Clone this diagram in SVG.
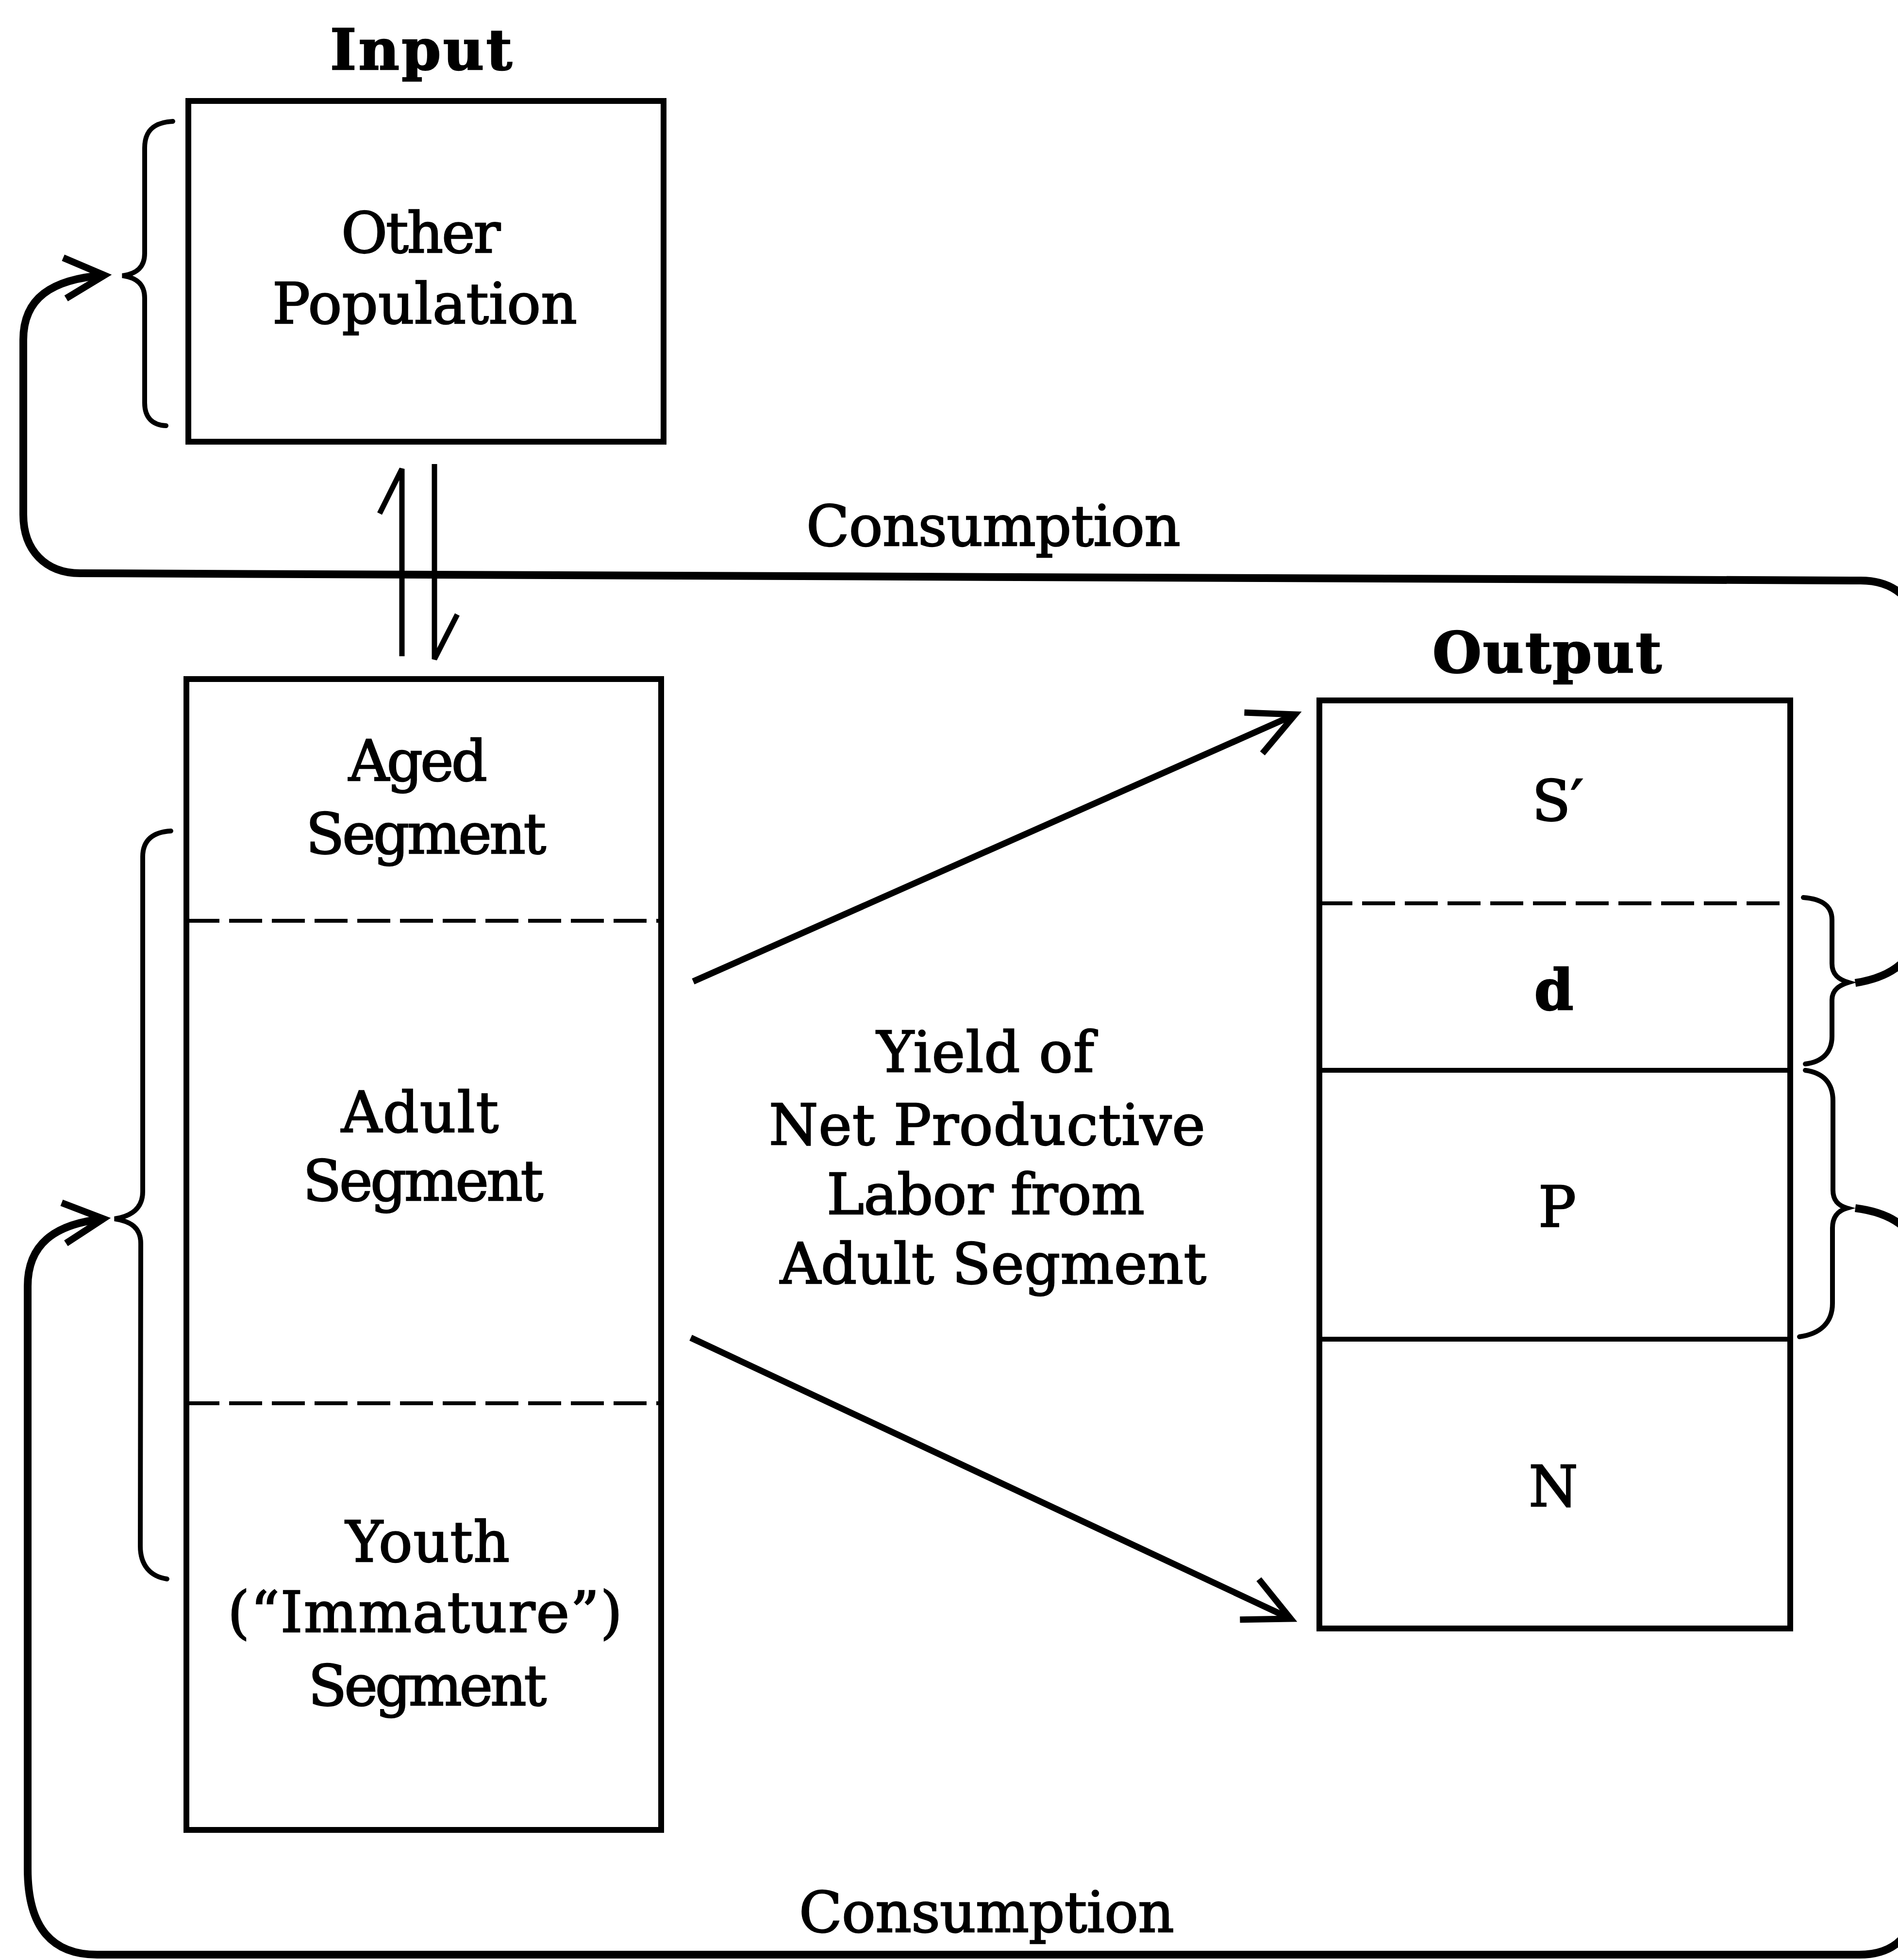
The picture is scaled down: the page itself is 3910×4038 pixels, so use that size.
<svg xmlns="http://www.w3.org/2000/svg" width="3910" height="4038" viewBox="0 0 3910 4038">
<style>
.box{fill:none;stroke:#000;stroke-width:12}
.div{fill:none;stroke:#000;stroke-width:10}
.dash{fill:none;stroke:#000;stroke-width:8;stroke-dasharray:68 20}
.brace{fill:none;stroke:#000;stroke-width:10;stroke-linecap:round}
.flow{fill:none;stroke:#000;stroke-width:16}
.yield{fill:none;stroke:#000;stroke-width:13}
.half{fill:none;stroke:#000;stroke-width:11;stroke-linejoin:miter}
.t{font-family:"DejaVu Serif","Liberation Serif",serif;font-size:116px;fill:#000;stroke:#000;stroke-width:2.5}
.b{font-weight:bold}
.m{text-anchor:middle}
</style>
<defs>
<marker id="chev" markerUnits="userSpaceOnUse" markerWidth="240" markerHeight="240" viewBox="-120 -120 240 240" refX="0" refY="0" orient="auto" overflow="visible">
<path d="M -82 -42 L 0 0 L -82 42" fill="none" stroke="#000" stroke-width="14"/>
</marker>
<marker id="yhead" markerUnits="userSpaceOnUse" markerWidth="240" markerHeight="240" viewBox="-120 -120 240 240" refX="0" refY="0" orient="auto" overflow="visible">
<path d="M -94 -46 L 0 0 L -94 46" fill="none" stroke="#000" stroke-width="13"/>
</marker>
</defs>
<rect width="3910" height="4038" fill="#fff"/>

<g id="input-node">
<text class="t b" x="680" y="143" textLength="375">Input</text>
<rect class="box" x="388" y="208" width="979" height="702"/>
<text class="t" x="703" y="520" textLength="328">Other</text>
<text class="t" x="561" y="666" textLength="628">Population</text>
<path class="brace" d="M 356 250 C 318 252, 298 268, 298 305 L 298 522 C 298 550, 282 564, 252 568 C 282 572, 298 586, 298 614 L 298 830 C 298 862, 316 876, 342 877"/>
</g>

<g id="population-node">
<rect class="box" x="384" y="1399" width="978" height="2371"/>
<line class="dash" x1="384" y1="1897" x2="1362" y2="1897"/>
<line class="dash" x1="384" y1="2891" x2="1362" y2="2891"/>
<text class="t" x="718" y="1608" textLength="286">Aged</text>
<text class="t" x="630" y="1758" textLength="495">Segment</text>
<text class="t" x="703" y="2332" textLength="324">Adult</text>
<text class="t" x="624" y="2473" textLength="495">Segment</text>
<text class="t" x="712" y="3217" textLength="338">Youth</text>
<text class="t" x="469" y="3362" textLength="813">(“Immature”)</text>
<text class="t" x="635" y="3513" textLength="491">Segment</text>
<path class="brace" d="M 352 1712 C 316 1714, 294 1730, 294 1765 L 294 2455 C 294 2490, 270 2506, 236 2511 C 270 2516, 290 2530, 290 2562 L 289 3185 C 289 3225, 310 3248, 344 3253"/>
</g>

<g id="output-node">
<text class="t b" x="2951" y="1385" textLength="472">Output</text>
<rect class="box" x="2718" y="1443" width="970" height="1912"/>
<line class="dash" x1="2718" y1="1861" x2="3688" y2="1861"/>
<line class="div" x1="2718" y1="2205" x2="3688" y2="2205"/>
<line class="div" x1="2718" y1="2759" x2="3688" y2="2759"/>
<text class="t m" x="3209" y="1690">S′</text>
<text class="t b m" x="3201" y="2080">d</text>
<text class="t m" x="3208" y="2527">P</text>
<text class="t m" x="3200" y="3103">N</text>
<path class="brace" d="M 3715 1849 C 3752 1852, 3774 1865, 3774 1895 L 3774 1985 C 3774 2008, 3788 2018, 3808 2024 C 3788 2030, 3774 2040, 3774 2060 L 3774 2135 C 3774 2170, 3752 2188, 3719 2192"/>
<path class="brace" d="M 3719 2205 C 3755 2210, 3776 2230, 3776 2268 L 3776 2452 C 3776 2474, 3788 2484, 3805 2489 C 3788 2494, 3775 2505, 3775 2530 L 3775 2685 C 3775 2725, 3750 2748, 3707 2754"/>
</g>

<g id="labels">
<text class="t" x="1661" y="1124" textLength="771">Consumption</text>
<text class="t" x="1806" y="2208" textLength="448">Yield of</text>
<text class="t" x="1584" y="2358" textLength="899">Net Productive</text>
<text class="t" x="1703" y="2501" textLength="655">Labor from</text>
<text class="t" x="1607" y="2644" textLength="878">Adult Segment</text>
<text class="t" x="1646" y="3980" textLength="773">Consumption</text>
</g>

<g id="connectors">
<path class="half" d="M 828 1352 V 966 L 782 1058"/>
<path class="half" d="M 895 956 V 1358 L 942 1266"/>
<line class="yield" x1="1428" y1="2022" x2="2668" y2="1472" marker-end="url(#yhead)"/>
<line class="yield" x1="1423" y1="2756" x2="2659" y2="3335" marker-end="url(#yhead)"/>
<path class="flow" d="M 3822 2025 C 3885 2015, 3955 1985, 3955 1890 L 3955 1320 C 3955 1240, 3905 1196, 3833 1196 L 165 1181 C 95 1181, 48 1135, 48 1060 L 48 700 C 48 615, 105 575, 215 567" marker-end="url(#chev)"/>
<path class="flow" d="M 3822 2489 C 3885 2497, 3955 2525, 3955 2610 L 3955 3860 C 3955 3975, 3915 4027, 3830 4027 L 200 4027 C 110 4027, 57 3975, 57 3850 L 57 2650 C 57 2565, 110 2522, 213 2511" marker-end="url(#chev)"/>
</g>
</svg>
